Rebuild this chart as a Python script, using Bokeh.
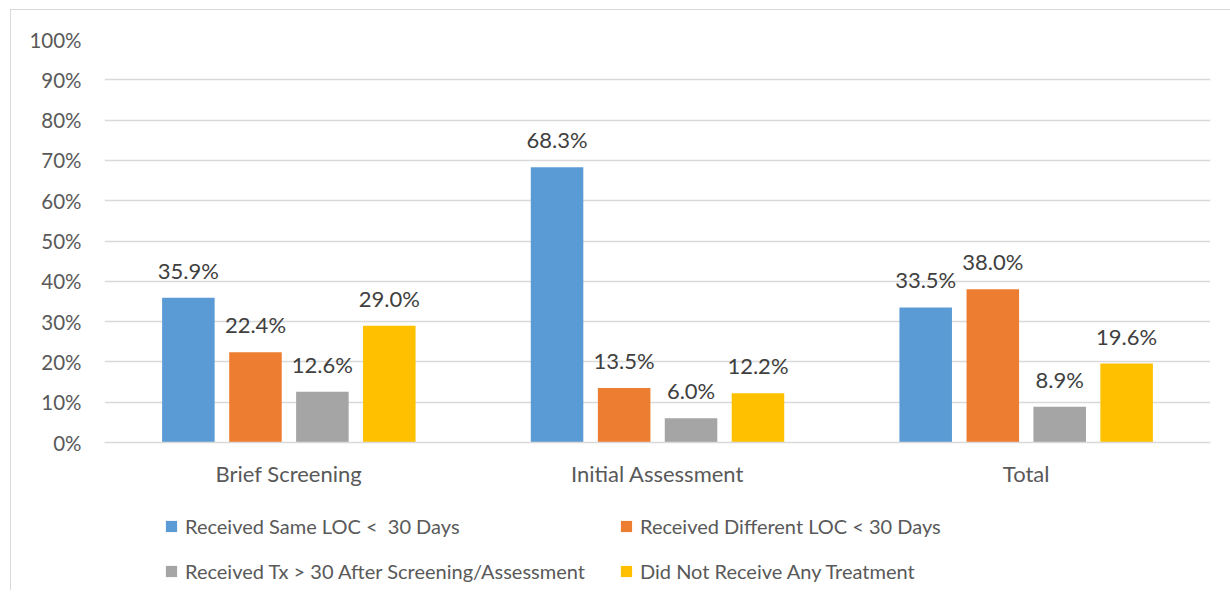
from bokeh.plotting import figure
from bokeh.layouts import column
from bokeh.models import (ColumnDataSource, FactorRange, Range1d, FixedTicker,
                          PrintfTickFormatter, LabelSet, Legend, LegendItem)
from bokeh.transform import dodge
from bokeh.core.properties import value
from bokeh.embed import file_html
from bokeh.resources import INLINE

categories = ["Brief Screening", "Initial Assessment", "Total"]
series_names = ["Received Same LOC <  30 Days",
                "Received Different LOC < 30 Days",
                "Received Tx > 30 After Screening/Assessment",
                "Did Not Receive Any Treatment"]
same_loc = [35.9, 68.3, 33.5]
diff_loc = [22.4, 13.5, 38.0]
tx_after = [12.6, 6.0, 8.9]
no_tx = [29.0, 12.2, 19.6]
y_ticks = [0, 10, 20, 30, 40, 50, 60, 70, 80, 90, 100]

colors = ["#5B9BD5", "#ED7D31", "#A5A5A5", "#FFC000"]
offsets = [-0.2725, -0.0905, 0.091, 0.2725]
bar_w = 0.1425
FONT = "Lato"
BORDER = "1px solid #d9d9d9"

series = [same_loc, diff_loc, tx_after, no_tx]
keys = ["same", "diff", "tx", "none"]
data = {"cat": categories}
for k, s in zip(keys, series):
    data[k] = s
    data[k + "_lbl"] = ["%.1f%%" % v for v in s]
src = ColumnDataSource(data)

p = figure(x_range=FactorRange(*categories), y_range=Range1d(0, 100),
           frame_width=1105, frame_height=402, output_backend="svg",
           toolbar_location=None,
           min_border_left=93, min_border_right=21, min_border_top=29,
           min_border_bottom=58)
p.styles = {"border-top": BORDER, "border-left": BORDER}
p.outline_line_color = None

for k, c, off in zip(keys, colors, offsets):
    p.vbar(x=dodge("cat", off, range=p.x_range), top=k, width=bar_w,
           source=src, fill_color=c, line_color=None)
    lbl = LabelSet(x=dodge("cat", off, range=p.x_range), y=k, text=k + "_lbl",
                   source=src, text_align="center", text_baseline="alphabetic",
                   y_offset=19, text_font=value(FONT), text_font_size="22px",
                   text_color="#404040")
    p.add_layout(lbl)

p.yaxis.ticker = FixedTicker(ticks=y_ticks)
p.yaxis.formatter = PrintfTickFormatter(format="%d%%")
p.yaxis.axis_line_color = None
p.yaxis.major_tick_line_color = None
p.yaxis.minor_tick_line_color = None
p.yaxis.major_tick_out = 0
p.yaxis.minor_tick_out = 0
p.yaxis.major_label_standoff = 23
p.yaxis.major_label_text_font = FONT
p.yaxis.major_label_text_font_size = "20.5px"
p.yaxis.major_label_text_color = "#595959"

p.xaxis.axis_line_color = "#d9d9d9"
p.xaxis.axis_line_width = 1.5
p.xaxis.major_tick_line_color = None
p.xaxis.minor_tick_line_color = None
p.xaxis.major_tick_out = 0
p.xaxis.minor_tick_out = 0
p.xaxis.major_label_standoff = 17
p.xaxis.major_label_text_font = FONT
p.xaxis.major_label_text_font_size = "22px"
p.xaxis.major_label_text_color = "#595959"

p.xgrid.grid_line_color = None
p.ygrid.grid_line_color = "#d9d9d9"
p.ygrid.grid_line_width = 1.5
p.ygrid.ticker = FixedTicker(ticks=y_ticks)

# legend strip below the chart: same bars, kept far outside its visible y range
lg = figure(x_range=p.x_range, y_range=Range1d(5000, 5001),
            width=1220, height=91, output_backend="svg", toolbar_location=None,
            x_axis_type=None, y_axis_type=None,
            min_border_left=0, min_border_right=0, min_border_top=0,
            min_border_bottom=0)
lg.styles = {"border-left": BORDER}
lg.outline_line_color = None
lg.xgrid.grid_line_color = None
lg.ygrid.grid_line_color = None
swatches = [lg.vbar(x=dodge("cat", off, range=lg.x_range), top=k, width=bar_w,
                    source=src, fill_color=c, line_color=None)
            for k, c, off in zip(keys, colors, offsets)]

for idx, vy in [((0, 1), 52), ((2, 3), 7)]:
    items = [LegendItem(label=series_names[i], renderers=[swatches[i]]) for i in idx]
    leg = Legend(items=items, orientation="horizontal", location=(60, vy),
                 label_text_font=FONT, label_text_font_size="20px",
                 label_text_color="#595959", glyph_width=14, glyph_height=14,
                 label_standoff=7, spacing=8, label_width=426, label_height=24,
                 padding=0, margin=0, border_line_color=None,
                 background_fill_alpha=0)
    lg.add_layout(leg)

layout = column(p, lg, margin=(9, 0, 0, 10))
open("out.html", "w").write(file_html(layout, INLINE))
